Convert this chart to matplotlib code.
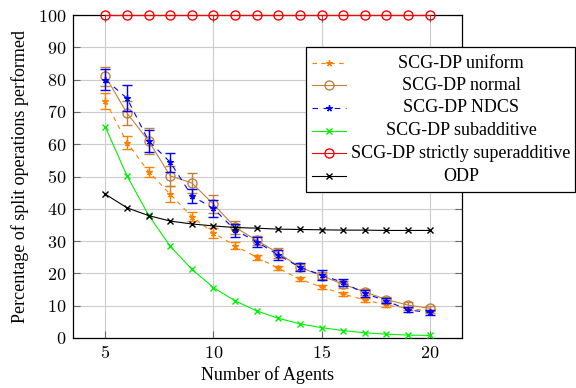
import matplotlib
matplotlib.use("Agg")
import matplotlib.pyplot as plt
from matplotlib.lines import Line2D
from matplotlib.patches import Rectangle
from matplotlib.ticker import FuncFormatter

plt.rcParams['font.family'] = ['Liberation Serif', 'DejaVu Serif']
plt.rcParams['mathtext.fontset'] = 'cm'

agents = list(range(5, 21))

uniform = [73.3, 60.5, 51.5, 44.5, 37.6, 32.5, 28.6, 25.0, 21.6, 18.2, 15.8, 13.6, 11.8, 10.2, 9.2, 8.3]
uniform_err = [2.5, 2.0, 1.5, 2.5, 1.5, 1.5, 1.0, 0.7, 0.7, 0.7, 0.7, 0.6, 0.5, 0.5, 0.5, 0.5]

normal = [81.0, 69.6, 61.0, 50.2, 48.0, 41.4, 34.3, 30.2, 26.3, 21.9, 19.3, 16.6, 14.3, 11.9, 10.2, 9.2]
normal_err = [3.0, 3.7, 4.0, 3.0, 3.0, 2.8, 2.0, 1.5, 1.5, 1.0, 1.0, 1.0, 1.0, 0.8, 0.8, 0.8]

ndcs = [80.0, 74.2, 61.0, 54.4, 44.0, 40.1, 33.4, 29.8, 25.7, 21.9, 19.5, 17.2, 13.8, 11.5, 8.7, 7.9]
ndcs_err = [3.3, 4.0, 3.5, 3.0, 2.2, 2.5, 2.0, 1.5, 1.5, 1.2, 1.5, 1.0, 1.0, 0.8, 0.8, 0.8]

subadditive = [65.3, 50.2, 38.0, 28.4, 21.3, 15.6, 11.5, 8.4, 6.1, 4.4, 3.2, 2.3, 1.6, 1.2, 0.9, 0.8]
superadditive = [100] * 16
odp = [44.5, 40.3, 37.9, 36.2, 35.3, 34.7, 34.2, 34.0, 33.7, 33.6, 33.5, 33.4, 33.4, 33.3, 33.3, 33.3]

labels = ["SCG-DP uniform", "SCG-DP normal", "SCG-DP NDCS", "SCG-DP subadditive",
          "SCG-DP strictly superadditive", "ODP"]

c_orange = (1.0, 0.5, 0.0)
c_brown = (0.75, 0.5, 0.25)
c_blue = (0.0, 0.0, 1.0)
c_green = (0.0, 0.95, 0.0)
c_red = (1.0, 0.0, 0.0)
c_black = (0.0, 0.0, 0.0)

W, H = 576, 388
FS = 13
fig = plt.figure(figsize=(W / 100, H / 100), dpi=100)
ax = fig.add_axes([73 / W, 1 - 338 / H, (462 - 73) / W, (338 - 15) / H])

star = (5, 2, 0)
lw = 0.8
styles = [
    dict(color=c_orange, ls=(0, (4, 4)), marker=star, ms=4.5),
    dict(color=c_brown, ls='-', marker='o', ms=6.5),
    dict(color=c_blue, ls=(0, (5, 5)), marker=star, ms=4.5),
    dict(color=c_green, ls='-', marker='x', ms=4.5),
    dict(color=c_red, ls='-', marker='o', ms=6.5),
    dict(color=c_black, ls='-', marker='x', ms=4.5),
]

series = [(uniform, uniform_err), (normal, normal_err), (ndcs, ndcs_err),
          (subadditive, None), (superadditive, None), (odp, None)]

for i, ((vals, err), st) in enumerate(zip(series, styles)):
    if err is not None:
        ax.errorbar(agents, vals, yerr=err, color=st['color'], ls=st['ls'], lw=lw,
                    marker=st['marker'], ms=st['ms'], mfc='none', mec=st['color'],
                    elinewidth=1.0, capsize=3.5, capthick=1.0, zorder=3 + i)
    else:
        ax.plot(agents, vals, color=st['color'], ls=st['ls'], lw=lw,
                marker=st['marker'], ms=st['ms'], mfc='none', mec=st['color'],
                mew=1.0, zorder=3 + i, clip_on=False)

ax.set_xlim(3.5, 21.5)
ax.set_ylim(0, 100)
ax.set_xticks([5, 10, 15, 20])
ax.set_yticks(range(0, 101, 10))
fmt = FuncFormatter(lambda v, p: r'$%d$' % round(v))
ax.xaxis.set_major_formatter(fmt)
ax.yaxis.set_major_formatter(fmt)
ax.grid(True, color=(0.8, 0.8, 0.8), lw=0.8, zorder=0)
ax.set_axisbelow(True)
ax.tick_params(direction='in', length=5, width=0.8, color=(0.4, 0.4, 0.4),
               top=True, right=True, labelsize=FS, pad=5)
for s in ax.spines.values():
    s.set_linewidth(0.9)
ax.set_xlabel("Number of Agents", fontsize=FS, labelpad=3)
ax.set_ylabel("Percentage of split operations performed", fontsize=FS, labelpad=6)

# legend drawn in figure pixel coordinates (centered labels as in reference)
def fx(px):
    return px / W

def fy(py):
    return 1 - py / H

fig.patches.append(Rectangle((fx(306), fy(192)), fx(575) - fx(306), fy(47) - fy(192),
                             transform=fig.transFigure, facecolor='white',
                             edgecolor='black', lw=0.9, zorder=20))
rows = [63, 85, 108, 130.5, 153.5, 176.5]
for lab, st, py in zip(labels, styles, rows):
    fig.lines.append(Line2D([fx(312), fx(346)], [fy(py), fy(py)], transform=fig.transFigure,
                            color=st['color'], ls=st['ls'], lw=lw, zorder=21))
    fig.lines.append(Line2D([fx(329)], [fy(py)], transform=fig.transFigure,
                            color=st['color'], marker=st['marker'], ms=st['ms'],
                            mfc='none', mec=st['color'], mew=1.0, ls='none', zorder=22))
    fig.text(fx(461), fy(py), lab, ha='center', va='center', fontsize=FS, zorder=23)

fig.savefig("out.png", dpi=100)
